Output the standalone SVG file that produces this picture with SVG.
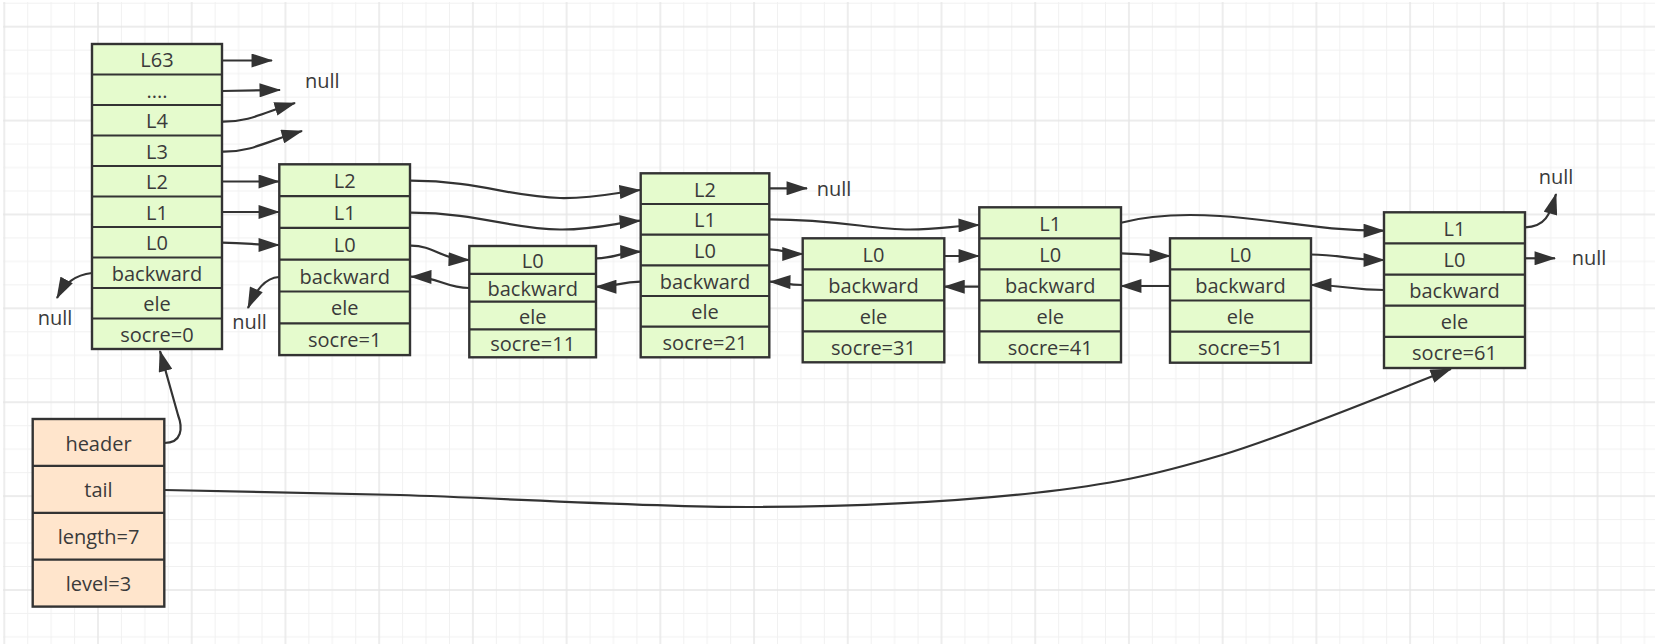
<svg xmlns="http://www.w3.org/2000/svg" width="1655" height="644" viewBox="0 0 1655 644">
<defs>
<pattern id="grid" patternUnits="userSpaceOnUse" x="3.3" y="25.7" width="93.72" height="93.88">
<path d="M24.43,0V93.88M47.86,0V93.88M71.29,0V93.88M0,24.47H93.72M0,47.94H93.72M0,71.41H93.72" stroke="#f1f1f1" stroke-width="1" fill="none"/>
<path d="M1,0V93.88M0,1H93.72" stroke="#e6e6e6" stroke-width="1.4" fill="none"/>
</pattern>
<marker id="ah" markerUnits="userSpaceOnUse" markerWidth="22" markerHeight="14" viewBox="0 0 20 13" refX="19" refY="6.5" orient="auto">
<path d="M0,0 L20,6.5 L0,13 Z" fill="#333"/>
</marker>
<style>
.g rect{fill:#e5fbcd;stroke:#333;stroke-width:2.4}
.o rect{fill:#ffe5cc;stroke:#333;stroke-width:2.4}
.sep{stroke:#333;stroke-width:2.2;fill:none}
text{font-family:"Open Sans","Noto Sans","Liberation Sans",sans-serif;font-size:20px;fill:#3a3a3a;text-anchor:middle}
.c path{fill:none;stroke:#333;stroke-width:2.2;marker-end:url(#ah)}
.nl{text-anchor:start}
</style>
</defs>
<rect width="1655" height="644" fill="#fff"/>
<rect x="3" y="2" width="1652" height="642" fill="url(#grid)"/>

<g id="node-header0" class="g">
<rect x="92" y="44" width="130" height="305"/>
<path class="sep" d="M92,74.5H222M92,105H222M92,135.5H222M92,166H222M92,196.5H222M92,227H222M92,257.5H222M92,288H222M92,318.5H222"/>
<text x="157" y="67.3">L63</text>
<text x="157" y="97.8">....</text>
<text x="157" y="128.3">L4</text>
<text x="157" y="158.8">L3</text>
<text x="157" y="189.3">L2</text>
<text x="157" y="219.8">L1</text>
<text x="157" y="250.3">L0</text>
<text x="157" y="280.8">backward</text>
<text x="157" y="311.3">ele</text>
<text x="157" y="341.8">socre=0</text>
</g>

<g id="node-1" class="g">
<rect x="279.3" y="164.3" width="130.7" height="190.8"/>
<path class="sep" d="M279.3,196.1H410M279.3,227.9H410M279.3,259.7H410M279.3,291.5H410M279.3,323.3H410"/>
<text x="344.7" y="188.2">L2</text>
<text x="344.7" y="220">L1</text>
<text x="344.7" y="251.8">L0</text>
<text x="344.7" y="283.6">backward</text>
<text x="344.7" y="315.4">ele</text>
<text x="344.7" y="347.2">socre=1</text>
</g>

<g id="node-11" class="g">
<rect x="469.3" y="246" width="126.7" height="111.3"/>
<path class="sep" d="M469.3,273.8H596M469.3,301.6H596M469.3,329.4H596"/>
<text x="532.7" y="267.9">L0</text>
<text x="532.7" y="295.7">backward</text>
<text x="532.7" y="323.5">ele</text>
<text x="532.7" y="351.3">socre=11</text>
</g>

<g id="node-21" class="g">
<rect x="640.7" y="173.3" width="128.6" height="184"/>
<path class="sep" d="M640.7,204H769.3M640.7,234.6H769.3M640.7,265.3H769.3M640.7,296H769.3M640.7,326.6H769.3"/>
<text x="705" y="196.6">L2</text>
<text x="705" y="227.3">L1</text>
<text x="705" y="258">L0</text>
<text x="705" y="288.6">backward</text>
<text x="705" y="319.3">ele</text>
<text x="705" y="350">socre=21</text>
</g>

<g id="node-31" class="g">
<rect x="802.7" y="238.3" width="141.6" height="124"/>
<path class="sep" d="M802.7,269.3H944.3M802.7,300.3H944.3M802.7,331.3H944.3"/>
<text x="873.5" y="261.8">L0</text>
<text x="873.5" y="292.8">backward</text>
<text x="873.5" y="323.8">ele</text>
<text x="873.5" y="354.8">socre=31</text>
</g>

<g id="node-41" class="g">
<rect x="979.3" y="207.3" width="141.7" height="155"/>
<path class="sep" d="M979.3,238.3H1121M979.3,269.3H1121M979.3,300.3H1121M979.3,331.3H1121"/>
<text x="1050.2" y="230.8">L1</text>
<text x="1050.2" y="261.8">L0</text>
<text x="1050.2" y="292.8">backward</text>
<text x="1050.2" y="323.8">ele</text>
<text x="1050.2" y="354.8">socre=41</text>
</g>

<g id="node-51" class="g">
<rect x="1170" y="238.3" width="141" height="124.4"/>
<path class="sep" d="M1170,269.4H1311M1170,300.5H1311M1170,331.6H1311"/>
<text x="1240.5" y="261.9">L0</text>
<text x="1240.5" y="293">backward</text>
<text x="1240.5" y="324">ele</text>
<text x="1240.5" y="355.2">socre=51</text>
</g>

<g id="node-61" class="g">
<rect x="1384" y="212.3" width="141" height="155.7"/>
<path class="sep" d="M1384,243.4H1525M1384,274.6H1525M1384,305.7H1525M1384,336.9H1525"/>
<text x="1454.5" y="235.9">L1</text>
<text x="1454.5" y="267">L0</text>
<text x="1454.5" y="298.1">backward</text>
<text x="1454.5" y="329.3">ele</text>
<text x="1454.5" y="360.4">socre=61</text>
</g>

<g id="zskiplist" class="o">
<rect x="32.7" y="419" width="131.6" height="187.6"/>
<path class="sep" d="M32.7,465.9H164.3M32.7,512.8H164.3M32.7,559.7H164.3"/>
<text x="98.5" y="450.5">header</text>
<text x="98.5" y="497.4">tail</text>
<text x="98.5" y="544.3">length=7</text>
<text x="98.5" y="591.2">level=3</text>
</g>

<g id="null-labels">
<text class="nl" x="305" y="88">null</text>
<text x="55" y="325">null</text>
<text x="249.5" y="329">null</text>
<text class="nl" x="816.7" y="196">null</text>
<text x="1556" y="183.5">null</text>
<text class="nl" x="1571.7" y="265">null</text>
</g>

<g id="connectors" class="c">
<path d="M222,60.5 L272,60.5"/>
<path d="M222,91 L280,90"/>
<path d="M222,121.7 C250,122 265,112 295,103"/>
<path d="M223,151.7 C252,152 270,140 302,131"/>
<path d="M92,273 C75,275 65,283 57,298"/>
<path d="M279,277 C265,278 256,290 248,308"/>
<path d="M222,181.5 L279,181.5"/>
<path d="M222,212 L279,212"/>
<path d="M222,242.7 C250,243 255,245 279,245"/>
<path d="M411,180.7 C480,181 510,197 560,198 C595,198.7 620,192 640,190"/>
<path d="M411,212.7 C480,213 510,229 560,229.5 C595,230 620,222 640,220.7"/>
<path d="M411,245.7 C435,246 440,259 469,260"/>
<path d="M596,258.3 C615,258.5 620,252 640.7,251.7"/>
<path d="M469,288 C445,288 440,277 411,276.7"/>
<path d="M640.7,281.7 C620,282 615,286.7 596,286.7"/>
<path d="M802.7,285 C785,285 785,282 770,281.7"/>
<path d="M770,249.3 C785,249.5 788,254 802.7,254"/>
<path d="M770,219.3 C840,219.5 870,229.5 910,229.5 C940,229.5 955,225.5 979,225"/>
<path d="M944.3,256 L979,256"/>
<path d="M979.3,286.7 L944.3,286.7"/>
<path d="M1121,222.7 C1150,215 1180,213.5 1220,216 C1280,220 1320,230.7 1384,230.7"/>
<path d="M1121,253.3 C1140,253.5 1150,256 1170,256"/>
<path d="M1170,286 L1121,286"/>
<path d="M1311,254.5 C1340,254.5 1350,260 1384,260"/>
<path d="M1384,290 C1350,290 1345,285 1311,285"/>
<path d="M769.3,188.3 L807,188.3"/>
<path d="M1525,227.3 C1545,227 1550,215 1556,194"/>
<path d="M1525,258.3 L1555,258.3"/>
<path d="M164.3,443 C182,443 183,428 178,415 L160,351"/>
<path d="M164.3,490 C204,490.8 302,492.2 400,495 C498,497.8 646,507.3 752,507 C858,506.7 956,501.7 1034,493 C1112,484.3 1152,475.7 1222,455 C1291,434.3 1413,383.3 1451,369"/>
</g>
</svg>
